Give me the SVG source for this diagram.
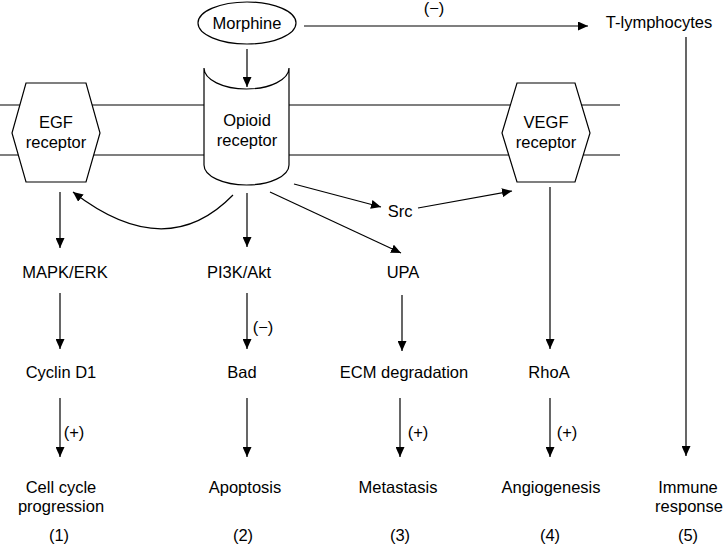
<svg xmlns="http://www.w3.org/2000/svg" width="723" height="544" viewBox="0 0 723 544">
<defs>
<marker id="ah" markerUnits="userSpaceOnUse" markerWidth="10" markerHeight="9" refX="10" refY="4.5" orient="auto">
<path d="M0,0 L10,4.5 L0,9 Z" fill="#000"/>
</marker>
<style>
text{font-family:"Liberation Sans",Arial,Helvetica,sans-serif;font-size:16.5px;fill:#000;text-anchor:middle}
.ln{stroke:#000;stroke-width:1.2;fill:none}
.sh{stroke:#000;stroke-width:1.2;fill:#fff}
.ar{stroke:#000;stroke-width:1.2;fill:none;marker-end:url(#ah)}
</style>
</defs>
<rect width="723" height="544" fill="#fff"/>
<g id="membrane">
<line class="ln" x1="0" y1="105" x2="620" y2="105"/>
<line class="ln" x1="0" y1="155" x2="620" y2="155"/>
</g>
<g id="connectors">
<line class="ar" x1="247" y1="49" x2="247" y2="87"/>
<line class="ar" x1="304" y1="26" x2="588" y2="26"/>
<line class="ar" x1="686" y1="37" x2="686" y2="456"/>
<line class="ar" x1="60" y1="192" x2="60" y2="248"/>
<path class="ar" d="M233,195 Q166,264 73,192"/>
<line class="ar" x1="247" y1="193" x2="247" y2="247"/>
<line class="ar" x1="294" y1="184" x2="381" y2="207"/>
<line class="ar" x1="270" y1="192" x2="401" y2="253"/>
<line class="ar" x1="418" y1="208" x2="512" y2="191"/>
<line class="ar" x1="550" y1="187" x2="550" y2="349"/>
<line class="ar" x1="60" y1="293" x2="60" y2="349"/>
<line class="ar" x1="247" y1="293" x2="247" y2="349"/>
<line class="ar" x1="402" y1="295" x2="402" y2="351"/>
<line class="ar" x1="60" y1="398" x2="60" y2="457"/>
<line class="ar" x1="247" y1="398" x2="247" y2="457"/>
<line class="ar" x1="400" y1="398" x2="400" y2="457"/>
<line class="ar" x1="550" y1="398" x2="550" y2="457"/>
<text x="434" y="14">(−)</text>
<text x="263" y="333">(−)</text>
<text x="74" y="438">(+)</text>
<text x="418" y="438">(+)</text>
<text x="567" y="438">(+)</text>
</g>
<g id="morphine">
<ellipse class="sh" cx="247" cy="23" rx="49" ry="21"/>
<text x="247" y="29">Morphine</text>
</g>
<g id="t-lymphocytes"><text x="659" y="28">T-lymphocytes</text></g>
<g id="egf-receptor">
<polygon class="sh" points="26,83 86,83 100,133 86,182 26,182 12,133"/>
<text x="56" y="128">EGF</text>
<text x="56" y="148">receptor</text>
</g>
<g id="opioid-receptor">
<path class="sh" d="M204,68 L204,165 A42.5,20 0 0 0 289,165 L289,68 A42.5,21 0 0 1 204,68 Z"/>
<text x="247" y="126">Opioid</text>
<text x="247" y="146">receptor</text>
</g>
<g id="vegf-receptor">
<polygon class="sh" points="517,83 575,83 590,133 575,182 517,182 502,133"/>
<text x="546" y="128">VEGF</text>
<text x="546" y="148">receptor</text>
</g>
<g id="src"><text x="400" y="217">Src</text></g>
<g id="mapk-erk"><text x="65" y="278">MAPK/ERK</text></g>
<g id="pi3k-akt"><text x="239" y="278">PI3K/Akt</text></g>
<g id="upa"><text x="403" y="278">UPA</text></g>
<g id="cyclin-d1"><text x="61" y="378">Cyclin D1</text></g>
<g id="bad"><text x="242" y="378">Bad</text></g>
<g id="ecm-degradation"><text x="404" y="378">ECM degradation</text></g>
<g id="rhoa"><text x="549" y="378">RhoA</text></g>
<g id="cell-cycle"><text x="61" y="493">Cell cycle</text><text x="61" y="512">progression</text><text x="59" y="541">(1)</text></g>
<g id="apoptosis"><text x="245" y="493">Apoptosis</text><text x="243" y="541">(2)</text></g>
<g id="metastasis"><text x="398" y="493">Metastasis</text><text x="400" y="541">(3)</text></g>
<g id="angiogenesis"><text x="551" y="493">Angiogenesis</text><text x="550" y="541">(4)</text></g>
<g id="immune-response"><text x="688" y="493">Immune</text><text x="689" y="512">response</text><text x="688" y="541">(5)</text></g>
</svg>
